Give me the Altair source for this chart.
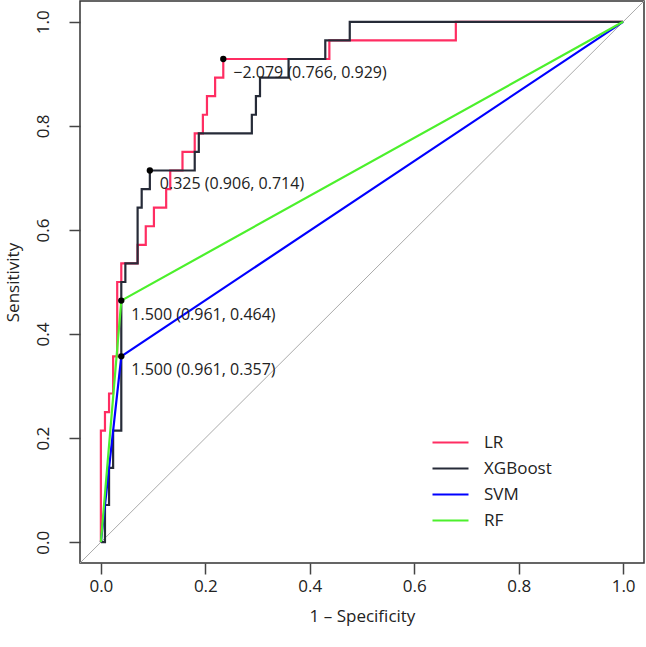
import altair as alt
import pandas as pd

N_NEG = 128
N_POS = 28

models = ["LR", "XGBoost", "SVM", "RF"]
colors = ["#FF2D62", "#262B38", "#0000FF", "#4CF02C"]

# step vertices as (false-positive count, true-positive count)
lr_fp = [0, 0, 1, 1, 2, 2, 3, 3, 4, 4, 5, 5, 9, 9, 11, 11, 13, 13, 16, 16, 17, 17, 20, 20,
         23, 23, 25, 25, 26, 26, 28, 28, 30, 30, 56, 56, 87, 87, 128]
lr_tp = [0, 6, 6, 7, 7, 8, 8, 10, 10, 14, 14, 15, 15, 16, 16, 17, 17, 18, 18, 19, 19, 20, 20, 21,
         21, 22, 22, 23, 23, 24, 24, 25, 25, 26, 26, 27, 27, 28, 28]

xgb_fp = [0, 1, 1, 2, 2, 3, 3, 5, 5, 6, 6, 9, 9, 10, 10, 12, 12, 23, 23, 24, 24, 37, 37, 38,
          38, 39, 39, 46, 46, 55, 55, 61, 61, 128]
xgb_tp = [0, 0, 2, 2, 4, 4, 6, 6, 14, 14, 15, 15, 18, 18, 19, 19, 20, 20, 21, 21, 22, 22, 23, 23,
          24, 24, 25, 25, 26, 26, 27, 27, 28, 28]

svm_fp = [0, 5, 128]
svm_tp = [0, 10, 28]

rf_fp = [0, 5, 128]
rf_tp = [0, 13, 28]

# best thresholds
best_model = ["LR", "XGBoost", "SVM", "RF"]
best_thr = [-2.079, 0.325, 1.500, 1.500]
best_fp = [30, 12, 5, 5]
best_tp = [26, 20, 10, 13]

diag_x = [-0.04, 1.04]
diag_y = [-0.04, 1.04]

tick_vals = [0.0, 0.2, 0.4, 0.6, 0.8, 1.0]

rows = []
for m, fps, tps in zip(models, [lr_fp, xgb_fp, svm_fp, rf_fp], [lr_tp, xgb_tp, svm_tp, rf_tp]):
    for i, (a, b) in enumerate(zip(fps, tps)):
        rows.append({"model": m, "order": i, "fpr": a / N_NEG, "tpr": b / N_POS})
curves = pd.DataFrame(rows)


def fmt(v):
    return f"{v:.3f}".replace("-", "\u2212")


pts = pd.DataFrame({
    "model": best_model,
    "fpr": [a / N_NEG for a in best_fp],
    "tpr": [b / N_POS for b in best_tp],
    "label": [f"{fmt(t)} ({1 - a / N_NEG:.3f}, {b / N_POS:.3f})"
              for t, a, b in zip(best_thr, best_fp, best_tp)],
})

diag = pd.DataFrame({"fpr": diag_x, "tpr": diag_y})

FONT = "Open Sans"
TXT = "#222222"

xscale = alt.Scale(domain=[-0.04, 1.04], nice=False, zero=False)
yscale = alt.Scale(domain=[-0.04, 1.04], nice=False, zero=False)

xaxis = alt.Axis(values=tick_vals, format=".1f", title="1 \u2013 Specificity", grid=False,
                 domain=False, tickSize=11, tickColor="#444444", tickWidth=1.5,
                 labelFont=FONT, labelFontSize=17, labelColor=TXT, labelPadding=12,
                 labelBaseline="middle", labelFlush=False, labelOverlap=False,
                 titleFont=FONT, titleFontSize=17, titleFontWeight="normal", titleColor=TXT,
                 titleBaseline="middle", titleY=53)
yaxis = alt.Axis(values=tick_vals, format=".1f", title="Sensitivity", grid=False,
                 domain=False, tickSize=11, tickColor="#444444", tickWidth=1.5,
                 labelFont=FONT, labelFontSize=17, labelColor=TXT, labelPadding=26,
                 labelAngle=270, labelAlign="center", labelBaseline="middle",
                 labelFlush=False, labelOverlap=False,
                 titleFont=FONT, titleFontSize=17, titleFontWeight="normal", titleColor=TXT,
                 titleAngle=270, titleAlign="center", titleBaseline="middle",
                 titleX=-67, titleY=281)

diag_layer = alt.Chart(diag).mark_line(color="#AAAAAA", strokeWidth=1, clip=True).encode(
    x=alt.X("fpr:Q", scale=xscale, axis=xaxis),
    y=alt.Y("tpr:Q", scale=yscale, axis=yaxis),
)

curve_layer = alt.Chart(curves).mark_line(strokeWidth=2.2, clip=True).encode(
    x=alt.X("fpr:Q", scale=xscale),
    y=alt.Y("tpr:Q", scale=yscale),
    color=alt.Color("model:N", sort=models,
                    scale=alt.Scale(domain=models, range=colors),
                    legend=alt.Legend(title=None, orient="none", legendX=362, legendY=433,
                                      direction="vertical", symbolType="M-3,0H3",
                                      symbolSize=144, symbolStrokeWidth=2.2,
                                      labelFont=FONT, labelFontSize=17, labelColor=TXT,
                                      labelOffset=25, rowPadding=8, padding=0,
                                      labelLimit=0)),
    order="order:Q",
)

dot_layer = alt.Chart(pts).mark_circle(color="black", size=40, opacity=1).encode(
    x=alt.X("fpr:Q", scale=xscale),
    y=alt.Y("tpr:Q", scale=yscale),
)

text_layer = alt.Chart(pts).mark_text(align="left", baseline="middle", dx=10, dy=14,
                                      font=FONT, fontSize=16, color=TXT).encode(
    x=alt.X("fpr:Q", scale=xscale),
    y=alt.Y("tpr:Q", scale=yscale),
    text="label:N",
)

chart = alt.layer(diag_layer, curve_layer, dot_layer, text_layer).properties(
    width=564, height=562,
    autosize=alt.AutoSizeParams(type="none"),
    padding={"left": 80, "top": 1, "right": 2, "bottom": 84},
    background="white",
).configure_view(stroke="#333333", strokeWidth=1.5)

chart.save("out.html", embed_options={"renderer": "svg", "actions": False})
